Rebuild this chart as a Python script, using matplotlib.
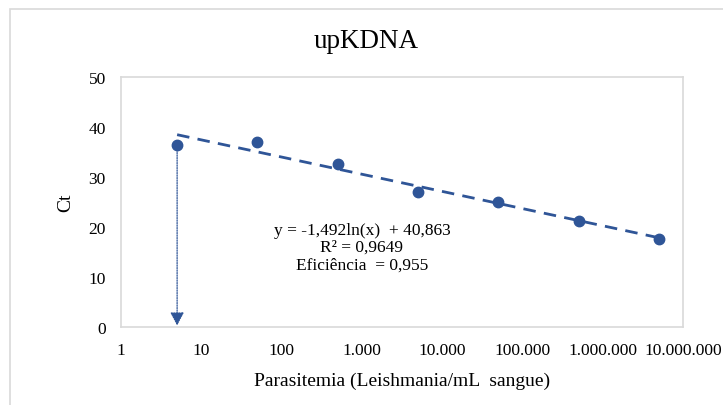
import numpy as np
import matplotlib
matplotlib.use("Agg")
import matplotlib.pyplot as plt
from matplotlib.ticker import FuncFormatter, FixedLocator
from matplotlib.patches import Rectangle

plt.rcParams['font.family'] = ['Liberation Serif', 'DejaVu Serif']

# Data: parasitemia vs Ct
parasites = [5, 50, 500, 5000, 50000, 500000, 5000000]
ct_values = [36.4, 37.0, 32.6, 27.0, 25.0, 21.2, 17.6]

# Logarithmic trendline as reported
slope = -1.492
intercept = 40.863

x_ticks = [1, 10, 100, 1000, 10000, 100000, 1000000, 10000000]
y_ticks = [0, 10, 20, 30, 40, 50]

blue = "#2F5597"
grid_gray = "#D9D9D9"

fig = plt.figure(figsize=(7.23, 4.06), dpi=100)
fig.patches.append(Rectangle((10 / 723, -0.1), 1.2, 1 - 10 / 406 + 0.1,
                             transform=fig.transFigure, fill=False,
                             edgecolor=grid_gray, linewidth=1.2))
ax = fig.add_axes([121 / 723, 1 - 328 / 406, (683 - 121) / 723, (328 - 78) / 406])

# trendline
xs = np.logspace(np.log10(parasites[0]), np.log10(parasites[-1]), 100)
ax.plot(xs, slope * np.log(xs) + intercept, color=blue, linewidth=2,
        dashes=(4.5, 3), zorder=2)

ax.plot(parasites, ct_values, 'o', color=blue, markersize=7.5, zorder=3)

# dotted arrow from first point down to the axis
ax.annotate("", xy=(parasites[0], 0.3), xytext=(parasites[0], ct_values[0]),
            arrowprops=dict(arrowstyle="-|>,head_width=0.42,head_length=0.8",
                            linestyle=(0, (1, 1)), color=blue, linewidth=0.9,
                            shrinkA=0, shrinkB=0))

ax.set_xscale('log')
ax.set_xlim(1, 10000000)
ax.set_ylim(0, 50)
ax.xaxis.set_major_locator(FixedLocator(x_ticks))
ax.xaxis.set_minor_locator(FixedLocator([]))
ax.xaxis.set_major_formatter(FuncFormatter(lambda v, p: f"{int(round(v)):,}".replace(",", ".")))
ax.set_yticks(y_ticks)
ax.tick_params(axis='both', length=0, labelsize=12.5, labelcolor="black")
ax.tick_params(axis='x', pad=11)
ax.tick_params(axis='y', pad=11)

for s in ax.spines.values():
    s.set_color(grid_gray)
    s.set_linewidth(1.2)

ax.set_xlabel("Parasitemia (Leishmania/mL  sangue)", fontsize=14, labelpad=10)
ax.set_ylabel("Ct", fontsize=14, labelpad=10)
fig.text(366 / 723, 1 - 42 / 406, "upKDNA", ha='center', va='center', fontsize=19.5)

fig.text(362 / 723, 1 - 248 / 406,
         "y = -1,492ln(x)  + 40,863\nR² = 0,9649\nEficiência  = 0,955",
         fontsize=12.5, ha='center', va='center', linespacing=1.1)

fig.savefig("out.png", dpi=100)
